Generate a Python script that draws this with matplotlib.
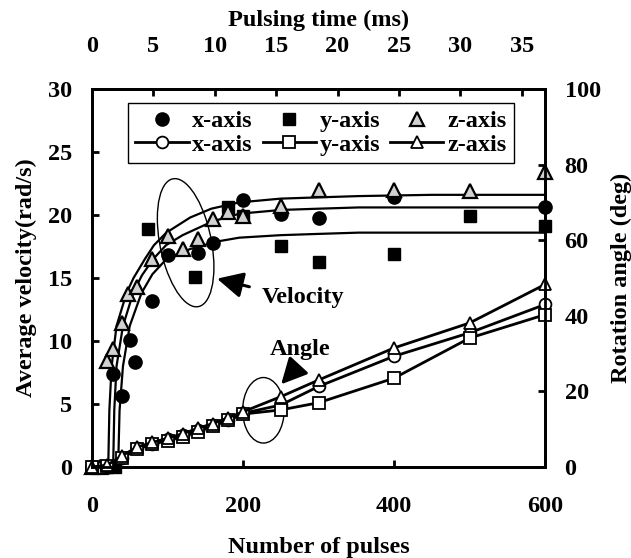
import matplotlib
matplotlib.use('Agg')
import matplotlib.pyplot as plt
from matplotlib.patches import Ellipse
from matplotlib.lines import Line2D

plt.rcParams['font.family'] = ['Liberation Serif', 'DejaVu Serif']
plt.rcParams['font.weight'] = 'bold'
plt.rcParams['axes.labelweight'] = 'bold'
plt.rcParams['font.size'] = 17.5

# ---------------- data ----------------
# measured average velocity (rad/s) vs number of pulses
vx_pulses = [0, 10, 20, 28, 40, 50, 57, 80, 100, 140, 160, 200, 250, 300, 400, 600]
vx_vel = [0, 0, 0, 7.4, 5.6, 10.1, 8.3, 13.2, 16.8, 17.0, 17.8, 21.2, 20.1, 19.8, 21.4, 20.6]

vy_pulses = [0, 10, 20, 30, 74, 136, 180, 200, 250, 300, 400, 500, 600]
vy_vel = [0, 0, 0, 0, 18.9, 15.1, 20.6, 19.9, 17.5, 16.3, 16.9, 19.9, 19.1]

vz_pulses = [0, 10, 20, 28, 40, 48, 60, 80, 100, 120, 140, 160, 180, 200, 250, 300, 400, 500, 600]
vz_vel = [0, 0, 8.4, 9.4, 11.4, 13.7, 14.3, 16.5, 18.3, 17.3, 18.1, 19.7, 20.2, 19.9, 20.7, 22.0, 22.0, 21.9, 23.4]

# fitted velocity curves
fit_x_pulses = [0, 28, 29.5, 32.5, 41, 54.5, 66, 81, 98, 120, 160, 195, 250, 300, 353, 450, 600]
fit_x_vel = [0, 0, 4.5, 8.0, 11.2, 13.8, 15.2, 16.5, 17.6, 18.4, 19.5, 20.1, 20.4, 20.5, 20.6, 20.6, 20.6]

fit_y_pulses = [0, 34.6, 36.5, 41, 50, 65.5, 80, 98.5, 130, 166, 195, 250, 300, 353, 450, 600]
fit_y_vel = [0, 0, 4.5, 8.0, 11.2, 13.8, 15.3, 16.5, 17.3, 17.9, 18.2, 18.4, 18.5, 18.6, 18.6, 18.6]

fit_z_pulses = [0, 21.5, 23, 26, 32.5, 45.7, 55, 70, 82, 98.5, 130, 158, 195, 250, 300, 353, 450, 600]
fit_z_vel = [0, 0, 4.5, 8.0, 11.2, 13.8, 15.0, 16.5, 17.6, 18.6, 19.8, 20.5, 21.0, 21.3, 21.4, 21.5, 21.6, 21.6]

# rotation angle (deg) vs number of pulses
ang_pulses = [0, 20, 40, 60, 80, 100, 120, 140, 160, 180, 200, 250, 300, 400, 500, 600]
ang_x = [0, 0.3, 2.5, 5.0, 6.2, 7.3, 8.5, 9.8, 11.0, 12.5, 14.2, 16.4, 21.3, 29.3, 35.5, 43.0]
ang_y = [0, 0.3, 2.3, 4.8, 6.0, 7.0, 8.0, 9.3, 10.8, 12.3, 14.0, 15.1, 17.0, 23.5, 34.1, 40.3]
ang_z = [0, 0.5, 3.0, 5.3, 6.5, 7.6, 8.8, 10.2, 11.5, 13.0, 14.6, 18.6, 23.0, 31.5, 38.1, 48.3]

series_labels = ['x-axis', 'y-axis', 'z-axis']
vel_ticks = [0, 5, 10, 15, 20, 25, 30]
ang_ticks = [0, 20, 40, 60, 80, 100]
pulse_ticks = [0, 200, 400, 600]
time_ticks = [0, 5, 10, 15, 20, 25, 30, 35]
MS_PER_PULSE = 36.9 / 600.0

# ---------------- figure ----------------
fig = plt.figure(figsize=(6.31, 5.58), dpi=100)
ax = fig.add_axes([0.1458, 0.1631, 0.718, 0.6774])
ax2 = ax.twinx()

tri_face = '0.82'
ms_f = 9.5
ms_o = 8.5

# velocity points
ax.plot(vx_pulses, vx_vel, 'o', color='black', ms=ms_f, ls='none', zorder=4, clip_on=False)
ax.plot(vy_pulses, vy_vel, 's', color='black', ms=ms_f - 0.5, ls='none', zorder=4, clip_on=False)
ax.plot(vz_pulses, vz_vel, '^', mfc=tri_face, mec='black', mew=1.6, ms=ms_f + 0.5, ls='none', zorder=5, clip_on=False)
# velocity fits
for xs, ys in [(fit_x_pulses, fit_x_vel), (fit_y_pulses, fit_y_vel), (fit_z_pulses, fit_z_vel)]:
    ax.plot(xs, ys, '-', color='black', lw=1.6, zorder=3)

# angle curves
ax2.plot(ang_pulses, ang_x, '-o', color='black', mfc='white', mec='black', mew=1.3, ms=ms_o, lw=2.0, clip_on=False)
ax2.plot(ang_pulses, ang_y, '-s', color='black', mfc='white', mec='black', mew=1.3, ms=ms_o - 0.5, lw=2.0, clip_on=False)
ax2.plot(ang_pulses, ang_z, '-^', color='black', mfc='white', mec='black', mew=1.3, ms=ms_o + 0.5, lw=2.0, clip_on=False)

# axes limits / ticks
ax.set_xlim(0, 600)
ax.set_ylim(0, 30)
ax2.set_ylim(0, 100)
ax.set_xticks(pulse_ticks)
ax.set_yticks(vel_ticks)
ax2.set_yticks(ang_ticks)

for a in (ax, ax2):
    for s in a.spines.values():
        s.set_linewidth(2.0)
ax.tick_params(axis='both', direction='in', length=5, width=2)
ax.tick_params(axis='x', pad=21)
ax.tick_params(axis='y', pad=14)
ax2.tick_params(axis='y', direction='in', length=5, width=2, pad=14)

ax.set_xlabel('Number of pulses', labelpad=14)
ax.set_ylabel('Average velocity(rad/s)', labelpad=8)
ax2.set_ylabel('Rotation angle (deg)', labelpad=7)

top = ax.secondary_xaxis('top', functions=(lambda n: n * MS_PER_PULSE, lambda t: t / MS_PER_PULSE))
top.set_xticks(time_ticks)
top.tick_params(direction='in', length=5, width=2, pad=23)
top.spines['top'].set_linewidth(2.0)
top.set_xlabel('Pulsing time (ms)', labelpad=7)

# annotations
ax.add_patch(Ellipse((124, 17.8), 75, 9.4, angle=-3, fill=False, ec='black', lw=1.0, zorder=2))
ax.add_patch(Ellipse((227, 4.5), 55, 5.2, fill=False, ec='black', lw=1.0, zorder=2))
ax.annotate('', xy=(162, 15.0), xytext=(212, 14.25),
            arrowprops=dict(arrowstyle='-|>,head_length=0.9,head_width=0.45', color='black', lw=2.2))
ax.text(225, 13.45, 'Velocity', ha='left', va='center')
ax.annotate('', xy=(248, 6.4), xytext=(274, 8.1),
            arrowprops=dict(arrowstyle='-|>,head_length=0.9,head_width=0.45', color='black', lw=2.2))
ax.text(276, 9.35, 'Angle', ha='center', va='center')

# legend
handles = [
    Line2D([], [], marker='o', color='black', ls='none', ms=ms_f),
    Line2D([], [], marker='o', color='black', mfc='white', mew=1.3, ms=ms_o, lw=2.0),
    Line2D([], [], marker='s', color='black', ls='none', ms=ms_f - 0.5),
    Line2D([], [], marker='s', color='black', mfc='white', mew=1.3, ms=ms_o - 0.5, lw=2.0),
    Line2D([], [], marker='^', mfc=tri_face, mec='black', mew=1.6, ls='none', ms=ms_f + 0.5),
    Line2D([], [], marker='^', color='black', mfc='white', mew=1.3, ms=ms_o + 0.5, lw=2.0),
]
labels = [series_labels[0], series_labels[0], series_labels[1], series_labels[1],
          series_labels[2], series_labels[2]]
leg = ax2.legend(handles, labels, ncol=3, loc='upper left', bbox_to_anchor=(0.079, 0.963),
                 frameon=True, fancybox=False, framealpha=1, edgecolor='black',
                 handlelength=2.2, handletextpad=0.15, columnspacing=0.4,
                 labelspacing=0.05, borderpad=0.3, borderaxespad=0)
leg.get_frame().set_linewidth(1.0)

fig.savefig('out.png', dpi=100)
